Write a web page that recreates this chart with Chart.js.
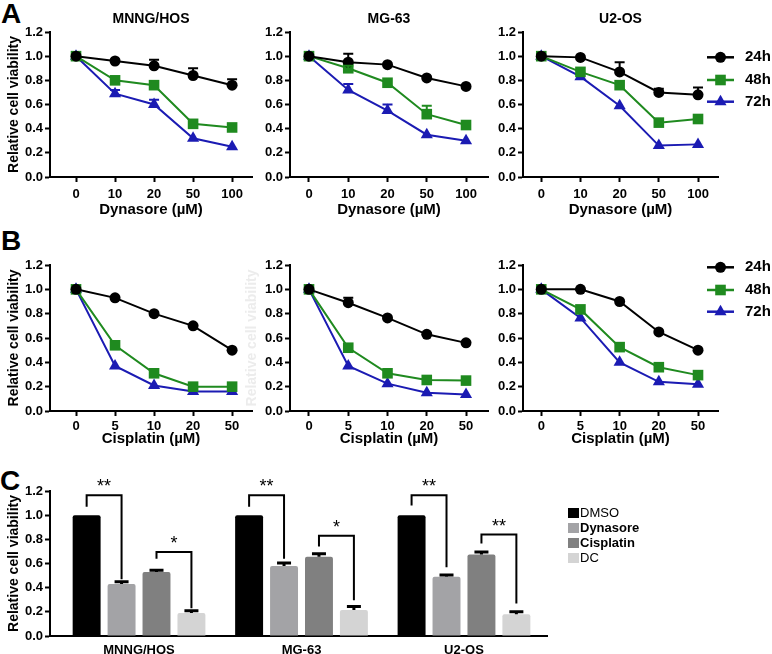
<!DOCTYPE html>
<html>
<head>
<meta charset="utf-8">
<script src="https://cdn.jsdelivr.net/npm/chart.js@4.4.1/dist/chart.umd.min.js"></script>
<style>
  body { margin: 0; background: #fff; width: 772px; height: 654px; overflow: hidden; position: relative; }
  canvas { position: absolute; }
  .tag { position: absolute; font: bold 28px/1 "Liberation Sans", Arial, sans-serif; color: #000; }
</style>
</head>
<body>
<div class="tag" style="left:1px;top:0px">A</div>
<div class="tag" style="left:1px;top:227px">B</div>
<div class="tag" style="left:0px;top:467px">C</div>
<script>
// ---- data ----
const cellLines = ['MNNG/HOS', 'MG-63', 'U2-OS'];
const timeLabels = ['24h', '48h', '72h'];
const dynasoreDoses = ['0', '10', '20', '50', '100'];
const cisplatinDoses = ['0', '5', '10', '20', '50'];
const viabilityTicks = [0.0, 0.2, 0.4, 0.6, 0.8, 1.0, 1.2];

// A: Dynasore
const dynHos24 = [1.0, 0.96, 0.92, 0.84, 0.76];
const dynHos48 = [1.0, 0.80, 0.76, 0.44, 0.41];
const dynHos72 = [1.0, 0.69, 0.60, 0.32, 0.25];
const dynHos24Err = [0, 0.01, 0.05, 0.06, 0.05];
const dynHos72Err = [0, 0.03, 0.04, 0, 0];

const dynMg24 = [1.0, 0.95, 0.93, 0.82, 0.75];
const dynMg48 = [1.0, 0.90, 0.78, 0.52, 0.43];
const dynMg72 = [1.0, 0.72, 0.55, 0.35, 0.30];
const dynMg24Err = [0, 0.07, 0, 0, 0];
const dynMg48Err = [0, 0.02, 0, 0.07, 0];
const dynMg72Err = [0, 0.05, 0.05, 0, 0];

const dynU2_24 = [1.0, 0.99, 0.87, 0.70, 0.68];
const dynU2_48 = [1.0, 0.87, 0.76, 0.45, 0.48];
const dynU2_72 = [1.0, 0.83, 0.59, 0.26, 0.27];
const dynU2_24Err = [0, 0, 0.08, 0.03, 0.06];

// B: Cisplatin
const cisHos24 = [1.0, 0.93, 0.80, 0.70, 0.50];
const cisHos48 = [1.0, 0.54, 0.31, 0.20, 0.20];
const cisHos72 = [1.0, 0.37, 0.21, 0.16, 0.16];

const cisMg24 = [1.0, 0.89, 0.765, 0.63, 0.56];
const cisMg48 = [1.0, 0.52, 0.31, 0.255, 0.25];
const cisMg72 = [1.0, 0.37, 0.225, 0.15, 0.135];
const cisMg24Err = [0, 0.04, 0, 0, 0];

const cisU2_24 = [1.0, 1.0, 0.90, 0.65, 0.50];
const cisU2_48 = [1.0, 0.835, 0.525, 0.36, 0.295];
const cisU2_72 = [1.0, 0.765, 0.40, 0.24, 0.22];

// C: combination
const treatments = ['DMSO', 'Dynasore', 'Cisplatin', 'DC'];
const dmsoVals = [1.0, 1.0, 1.0];
const dynasoreVals = [0.43, 0.58, 0.49];
const cisplatinVals = [0.53, 0.655, 0.675];
const dcVals = [0.19, 0.215, 0.18];
const dmsoErr = [0, 0, 0];
const dynasoreErr = [0.02, 0.025, 0.015];
const cisplatinErr = [0.015, 0.025, 0.02];
const dcErr = [0.02, 0.03, 0.02];
// [group, fromBar, toBar, leftLegEnd, top, rightLegEnd, mark]
const sigBrackets = [
  [0, 0, 1, 1.07, 1.165, 0.47, '**'],
  [0, 2, 3, 0.64, 0.695, 0.23, '*'],
  [1, 0, 1, 1.07, 1.165, 0.64, '**'],
  [1, 2, 3, 0.74, 0.83, 0.295, '*'],
  [2, 0, 1, 1.08, 1.165, 0.57, '**'],
  [2, 2, 3, 0.765, 0.84, 0.27, '**']
];

// ---- styling ----
const FONT = '"Liberation Sans", Arial, sans-serif';
Chart.defaults.font.family = FONT;
Chart.defaults.color = '#000';
Chart.defaults.animation = false;

const seriesColors = ['#000000', '#1f8a1f', '#1b1bb3'];
const seriesMarks = ['circle', 'rect', 'triangle'];
const markRadius = [5.5, 7.5, 7];
const barColors = ['#000000', '#a3a3a6', '#808080', '#d4d4d4'];

const errorBars = {
  id: 'errorBars',
  afterDatasetsDraw(chart, args, opts) {
    const ctx = chart.ctx, y = chart.scales.y;
    ctx.save();
    chart.data.datasets.forEach((ds, d) => {
      if (!ds.errs) return;
      const meta = chart.getDatasetMeta(d);
      ctx.strokeStyle = opts.color || ds.borderColor;
      ctx.lineWidth = opts.width || 2;
      ds.errs.forEach((e, i) => {
        if (!e) return;
        const el = meta.data[i];
        const top = y.getPixelForValue(ds.data[i].y + e);
        ctx.beginPath();
        ctx.moveTo(el.x, el.y);
        ctx.lineTo(el.x, top);
        ctx.moveTo(el.x - (opts.cap || 5), top);
        ctx.lineTo(el.x + (opts.cap || 5), top);
        ctx.stroke();
      });
    });
    ctx.restore();
  }
};

const lineLegend = {
  id: 'lineLegend',
  afterDraw(chart, args, opts) {
    if (!opts.y) return;
    const ctx = chart.ctx;
    chart.data.datasets.forEach((ds, d) => {
      const y = opts.y[d];
      ctx.save();
      ctx.strokeStyle = ds.borderColor;
      ctx.lineWidth = 2.5;
      ctx.beginPath();
      ctx.moveTo(opts.x, y);
      ctx.lineTo(opts.x + 27, y);
      ctx.stroke();
      ctx.fillStyle = ds.backgroundColor;
      Chart.helpers.drawPoint(ctx, {pointStyle: ds.pointStyle, radius: ds.pointRadius, borderWidth: 0, rotation: 0}, opts.x + 13.5, y);
      ctx.fillStyle = '#000';
      ctx.font = 'bold 15px ' + FONT;
      ctx.textBaseline = 'middle';
      ctx.fillText(ds.label, opts.x + 38, y);
      ctx.restore();
    });
  }
};

const barLegend = {
  id: 'barLegend',
  afterDraw(chart, args, opts) {
    if (!opts.y) return;
    const ctx = chart.ctx;
    ctx.save();
    ctx.textBaseline = 'middle';
    chart.data.datasets.forEach((ds, d) => {
      ctx.fillStyle = ds.backgroundColor;
      ctx.fillRect(opts.x, opts.y[d] - 5, 11, 10);
      ctx.fillStyle = '#000';
      ctx.font = opts.weights[d] + ' 13px ' + FONT;
      ctx.fillText(ds.label, opts.x + 12, opts.y[d]);
    });
    ctx.restore();
  }
};

const brackets = {
  id: 'brackets',
  afterDraw(chart, args, opts) {
    if (!opts.items) return;
    const ctx = chart.ctx, y = chart.scales.y;
    ctx.save();
    ctx.strokeStyle = '#000';
    ctx.fillStyle = '#000';
    ctx.lineWidth = 2;
    ctx.font = '18px ' + FONT;
    ctx.textAlign = 'center';
    opts.items.forEach(([g, a, b, yl, yt, yr, mark]) => {
      const xa = chart.getDatasetMeta(a).data[g].x;
      const xb = chart.getDatasetMeta(b).data[g].x;
      const pt = y.getPixelForValue(yt);
      ctx.beginPath();
      ctx.moveTo(xa, y.getPixelForValue(yl));
      ctx.lineTo(xa, pt);
      ctx.lineTo(xb, pt);
      ctx.lineTo(xb, y.getPixelForValue(yr));
      ctx.stroke();
      ctx.fillText(mark, (xa + xb) / 2, pt - 3);
    });
    ctx.restore();
  }
};

Chart.register(errorBars, lineLegend, barLegend, brackets);

function addCanvas(left, top, w, h) {
  const c = document.createElement('canvas');
  c.width = w; c.height = h;
  c.style.left = left + 'px';
  c.style.top = top + 'px';
  c.style.width = w + 'px';
  c.style.height = h + 'px';
  document.body.appendChild(c);
  return c;
}

function yAxis(titleOpts) {
  return {
    min: 0, max: 1.2,
    afterBuildTicks: s => { s.ticks = viabilityTicks.map(v => ({value: v})); },
    afterFit: s => { s.width = 50; },
    ticks: {callback: v => v.toFixed(1), font: {size: 13, weight: 'bold'}, padding: 2},
    grid: {drawOnChartArea: false, tickLength: 5, tickWidth: 2, tickColor: '#000'},
    border: {color: '#000', width: 2},
    title: titleOpts
  };
}

// columns: canvas left, canvas width, right padding, x range
const cols = [
  {left: 0, width: 262, padRight: 10, xMin: -0.667, xMax: 4.51},
  {left: 240, width: 258, padRight: 10, xMin: -0.484, xMax: 4.56},
  {left: 473, width: 299, padRight: 54, xMin: -0.466, xMax: 4.51}
];

function lineChart(row, c, doses, xTitle, vals, errs, opts) {
  const col = cols[c];
  const cv = addCanvas(col.left, row.top, col.width, row.height);
  const datasets = timeLabels.map((t, d) => ({
    label: t,
    data: vals[d].map((v, i) => ({x: i, y: v})),
    errs: errs[d],
    borderColor: seriesColors[d],
    backgroundColor: seriesColors[d],
    borderWidth: 2,
    pointStyle: seriesMarks[d],
    pointRadius: markRadius[d],
    pointBorderWidth: 0,
    tension: 0
  }));
  return new Chart(cv, {
    type: 'line',
    data: {datasets},
    options: {
      responsive: false,
      devicePixelRatio: 1,
      layout: {padding: {top: row.padTop, right: col.padRight, left: 0, bottom: 0}},
      plugins: {
        legend: {display: false},
        tooltip: {enabled: false},
        title: {display: !!opts.title, text: opts.title, fullSize: false, font: {size: 14, weight: 'bold'}, padding: {top: 0, bottom: 4.2}},
        errorBars: {cap: 5, width: 2},
        lineLegend: opts.legend || {}
      },
      scales: {
        x: {
          type: 'linear', min: col.xMin, max: col.xMax,
          afterBuildTicks: s => { s.ticks = doses.map((_, i) => ({value: i})); },
          afterFit: s => { s.height = row.hx; },
          ticks: {callback: v => doses[v], font: {size: 13, weight: 'bold'}, padding: row.tickPad, maxRotation: 0, autoSkip: false},
          grid: {drawOnChartArea: false, tickLength: 5, tickWidth: 2, tickColor: '#000'},
          border: {color: '#000', width: 2},
          title: {display: true, text: xTitle, font: {size: 15, weight: 'bold'}, padding: {top: 0, bottom: 2}}
        },
        y: yAxis(opts.yTitle || {display: false})
      }
    }
  });
}

const rowA = {top: 11, height: 210, padTop: 0, hx: 44, tickPad: 5};
const rowB = {top: 255, height: 195, padTop: 10, hx: 39, tickPad: 3};
const yTitleMain = {display: true, text: 'Relative cell viability', font: {size: 14, weight: 'bold'}, padding: {top: 6, bottom: 0}};
const yTitleGhost = {display: true, text: 'Relative cell viability', color: '#ececec', font: {size: 14, weight: 'bold'}, padding: {top: 4, bottom: 0}};

lineChart(rowA, 0, dynasoreDoses, 'Dynasore (µM)', [dynHos24, dynHos48, dynHos72], [dynHos24Err, null, dynHos72Err],
  {title: cellLines[0], yTitle: yTitleMain});
lineChart(rowA, 1, dynasoreDoses, 'Dynasore (µM)', [dynMg24, dynMg48, dynMg72], [dynMg24Err, dynMg48Err, dynMg72Err],
  {title: cellLines[1]});
lineChart(rowA, 2, dynasoreDoses, 'Dynasore (µM)', [dynU2_24, dynU2_48, dynU2_72], [dynU2_24Err, null, null],
  {title: cellLines[2], legend: {x: 234, y: [46.3, 69, 90.7]}});

lineChart(rowB, 0, cisplatinDoses, 'Cisplatin (µM)', [cisHos24, cisHos48, cisHos72], [null, null, null],
  {yTitle: yTitleMain});
lineChart(rowB, 1, cisplatinDoses, 'Cisplatin (µM)', [cisMg24, cisMg48, cisMg72], [cisMg24Err, null, null],
  {yTitle: yTitleGhost});
lineChart(rowB, 2, cisplatinDoses, 'Cisplatin (µM)', [cisU2_24, cisU2_48, cisU2_72], [null, null, null],
  {legend: {x: 234, y: [12.3, 35, 56.7]}});

// ---- C: bar chart ----
const barVals = [dmsoVals, dynasoreVals, cisplatinVals, dcVals];
const barErrs = [dmsoErr, dynasoreErr, cisplatinErr, dcErr];
const cvC = addCanvas(0, 470, 772, 184);
new Chart(cvC, {
  type: 'bar',
  data: {
    datasets: treatments.map((t, d) => ({
      label: t,
      data: barVals[d].map((v, i) => ({x: i, y: v})),
      errs: barErrs[d],
      backgroundColor: barColors[d],
      borderRadius: 2,
      borderSkipped: 'bottom',
      barPercentage: 0.8,
      categoryPercentage: 0.86
    }))
  },
  options: {
    responsive: false,
    devicePixelRatio: 1,
    layout: {padding: {top: 21, right: 225, left: 0, bottom: 0}},
    plugins: {
      legend: {display: false},
      tooltip: {enabled: false},
      errorBars: {cap: 7, width: 3, color: '#000'},
      barLegend: {x: 568, y: [43, 58, 73, 88], weights: ['normal', 'bold', 'bold', 'normal']},
      brackets: {items: sigBrackets}
    },
    scales: {
      x: {
        type: 'linear', min: -0.548, max: 2.511, offset: false,
        afterBuildTicks: s => { s.ticks = cellLines.map((_, i) => ({value: i})); },
        afterFit: s => { s.height = 18; },
        ticks: {display: true, callback: v => cellLines[v], font: {size: 13, weight: 'bold'}, padding: 7, maxRotation: 0, autoSkip: false},
        grid: {display: true, drawOnChartArea: false, drawTicks: false, offset: false},
        border: {color: '#000', width: 2}
      },
      y: yAxis(yTitleMain)
    }
  }
});
</script>
</body>
</html>
